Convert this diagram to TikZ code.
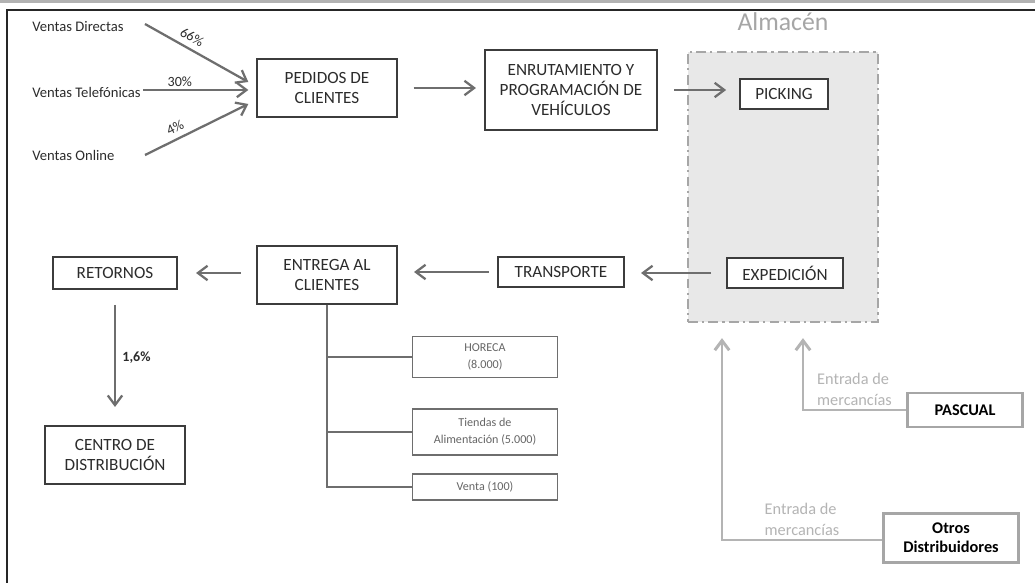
\documentclass[tikz,border=0pt]{standalone}
\usepackage{fontspec}
\setmainfont{Carlito}
\usetikzlibrary{arrows.meta, positioning, calc}
\definecolor{boxgray}{HTML}{3C3C3C}
\definecolor{arrgray}{HTML}{6E6E6E}
\definecolor{txtgray}{HTML}{2C2C2C}
\definecolor{subgray}{HTML}{666666}
\definecolor{whfill}{HTML}{E8E8E8}
\definecolor{whedge}{HTML}{A6A6A6}
\definecolor{ingray}{HTML}{B4B4B4}
\definecolor{bandgray}{HTML}{B2B2B2}

\begin{document}
\begin{tikzpicture}[x=0.025cm, y=-0.025cm,
  >={Straight Barb[length=2.4mm, width=3.6mm]},
  mainbox/.style={draw=boxgray, line width=1.5pt, fill=white, align=center,
    text=txtgray, font=\fontsize{12.2}{14.5}\selectfont, inner sep=2pt},
  subbox/.style={draw=arrgray, line width=1.1pt, fill=white, align=center,
    text=subgray, font=\fontsize{8.6}{12}\selectfont, minimum width=3.63cm, inner sep=2pt},
  supbox/.style={draw=whedge, line width=2pt, fill=white, align=center,
    font=\fontsize{11.6}{13.5}\selectfont\bfseries, inner sep=2pt},
  srclabel/.style={anchor=west, text=txtgray, inner sep=0pt, font=\fontsize{10.4}{12}\selectfont},
  pct/.style={text=txtgray, font=\fontsize{10}{11}\selectfont, inner sep=1.5pt},
  entlbl/.style={text=ingray, align=left, font=\fontsize{11.6}{15}\selectfont, inner sep=2pt},
  arr/.style={->, line width=1.6pt, arrgray},
  inarr/.style={->, line width=2.1pt, ingray},
  branch/.style={line width=1.1pt, arrgray},
]
\useasboundingbox (0,0) rectangle (1035,583);

% Page frame
\fill[white] (0,0) rectangle (1035,583);
\fill[bandgray] (0,0) rectangle (1035,3.5);
\draw[line width=1.3pt, black!85] (7,583) -- (7,10) -- (1035,10);

% === Warehouse area ===
\node[draw=whedge, fill=whfill, line width=1.6pt,
  dash pattern=on 7pt off 3pt on 1.5pt off 3pt,
  minimum width=4.75cm, minimum height=6.75cm] (almacen) at (783,187) {};
\node[text=whedge, font=\fontsize{18.3}{20}\selectfont] (almtitle) at (783,22) {Almacén};

% === Sales channels ===
\node[srclabel] (vdir) at (32,27) {Ventas Directas};
\node[srclabel] (vtel) at (32,92) {Ventas Telefónicas};
\node[srclabel] (vonl) at (32,155) {Ventas Online};
\coordinate (dirtail) at (145,24);
\coordinate (teltail) at (143,90);
\coordinate (onltail) at (145,155);

% === Main flow boxes ===
\node[mainbox, minimum width=3.48cm, minimum height=1.43cm] (pedidos) at (327,88)
  {PEDIDOS DE\\CLIENTES};
\node[mainbox, minimum width=4.3cm, minimum height=1.98cm] (enrut) at (571,90)
  {ENRUTAMIENTO Y\\PROGRAMACIÓN DE\\VEHÍCULOS};
\node[mainbox, minimum width=2.2cm, minimum height=0.75cm] (picking) at (784,94) {PICKING};
\node[mainbox, minimum width=2.88cm, minimum height=0.75cm] (expedicion) at (785,273) {EXPEDICIÓN};
\node[mainbox, minimum width=3.15cm, minimum height=0.73cm] (transporte) at (561,272) {TRANSPORTE};
\node[mainbox, minimum width=3.5cm, minimum height=1.43cm] (entrega) at (327,275)
  {ENTREGA AL\\CLIENTES};
\node[mainbox, minimum width=3.1cm, minimum height=0.78cm] (retornos) at (115,273) {RETORNOS};
\node[mainbox, minimum width=3.48cm, minimum height=1.45cm] (centro) at (115,455)
  {CENTRO DE\\DISTRIBUCIÓN};

% Customer types
\node[subbox, minimum height=1.03cm] (horeca) at (485,357) {HORECA\\(8.000)};
\node[subbox, minimum height=1.15cm] (tiendas) at (485,432) {Tiendas de\\Alimentación (5.000)};
\node[subbox, minimum height=0.65cm] (venta) at (485,487) {Venta (100)};

% Suppliers
\node[supbox, minimum width=2.88cm, minimum height=0.85cm] (pascual) at (965,410) {PASCUAL};
\node[supbox, minimum width=3.38cm, minimum height=1.23cm] (otros) at (951,538)
  {Otros\\Distribuidores};

% === Arrows ===
\draw[arr] (dirtail) -- node[pct, pos=0.4, anchor=south, rotate=-29, inner sep=4pt] {66\%}
  ($(pedidos.west)+(-8,-6)$);
\draw[arr] (teltail) -- node[pct, above, pos=0.35] {30\%} ($(pedidos.west)+(-8,2)$);
\draw[arr] (onltail) -- node[pct, pos=0.34, anchor=south, rotate=26, inner sep=4pt] {4\%}
  ($(pedidos.west)+(-8,16)$);

\draw[arr, shorten <=4mm, shorten >=2mm] (pedidos.east) -- (pedidos.east -| enrut.west);
\draw[arr, shorten <=4mm, shorten >=3.2mm] (enrut.east) -- (enrut.east -| picking.west);
\draw[arr, shorten <=3.8mm, shorten >=4mm] (expedicion.west) -- (expedicion.west -| transporte.east);
\draw[arr, shorten <=2mm, shorten >=4mm] (transporte.west) -- (transporte.west -| entrega.east);
\draw[arr, shorten <=3.8mm, shorten >=4.5mm] (entrega.west |- retornos.east) -- (retornos.east);
\draw[arr, shorten <=3.8mm, shorten >=4.5mm] (retornos.south) --
  node[pct, right=3pt, font=\fontsize{10}{11}\selectfont\bfseries] {1,6\%} (centro.north);

% Customer tree
\draw[branch] (entrega.south) |- (horeca.west);
\draw[branch] (entrega.south) |- (tiendas.west);
\draw[branch] (entrega.south) |- (venta.west);

% Incoming goods
\draw[inarr] (pascual.west) -| node[entlbl, pos=0.25, above] {Entrada de\\mercancías}
  ($(almacen.south)+(20,15)$);
\draw[inarr] (otros.west |- 0,540) -| node[entlbl, pos=0.25, above] {Entrada de\\mercancías}
  ($(almacen.south)+(-61,15)$);

\end{tikzpicture}
\end{document}
